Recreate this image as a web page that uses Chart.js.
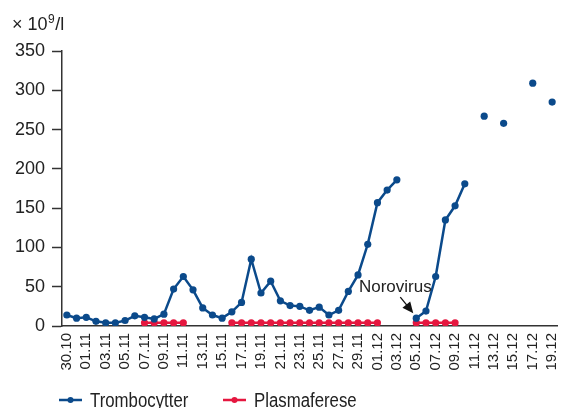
<!DOCTYPE html>
<html>
<head>
<meta charset="utf-8">
<script src="https://cdn.jsdelivr.net/npm/chart.js@4"></script>
<style>
  html, body { margin: 0; padding: 0; background: #fff; }
  #wrap { width: 561px; height: 408px; }
</style>
</head>
<body>
<div id="wrap"><canvas id="plateletChart"></canvas></div>
<script>
// DATA
const dates = [
  "30.10","31.10","01.11","02.11","03.11","04.11","05.11","06.11","07.11","08.11",
  "09.11","10.11","11.11","12.11","13.11","14.11","15.11","16.11","17.11","18.11",
  "19.11","20.11","21.11","22.11","23.11","24.11","25.11","26.11","27.11","28.11",
  "29.11","30.11","01.12","02.12","03.12","04.12","05.12","06.12","07.12","08.12",
  "09.12","10.12","11.12","12.12","13.12","14.12","15.12","16.12","17.12","18.12","19.12"
];
const trombocytter = [
  14, 10, 11, 6, 4, 4, 7, 13, 11, 9,
  15, 47, 63, 46, 23, 14, 10, 18, 30, 85,
  42, 57, 32, 26, 25, 20, 24, 14, 20, 44,
  65, 104, 157, 173, 186, null, 10, 19, 63, 135,
  153, 181, null, 267, null, 258, null, null, 309, null, 285
];
const plasmaferese = [
  null, null, null, null, null, null, null, null, 4, 4,
  4, 4, 4, null, null, null, null, 4, 4, 4,
  4, 4, 4, 4, 4, 4, 4, 4, 4, 4,
  4, 4, 4, null, null, null, 4, 4, 4, 4,
  4, null, null, null, null, null, null, null, null, null, null
];
const yTicks = [0, 50, 100, 150, 200, 250, 300, 350];
const seriesNames = ["Trombocytter", "Plasmaferese"];
const noteText = "Norovirus";
const noteIndex = 36;

const BLUE = "#0b4a8b";
const RED = "#e5173f";
const AXIS = "#333333";
const FONT = "'Liberation Sans', Arial, sans-serif";

// extra drawing: unit label, Norovirus arrow, legend
const extras = {
  id: "extras",
  afterDraw(chart) {
    const ctx = chart.ctx;
    const x = chart.scales.x;
    const y = chart.scales.y;
    ctx.save();

    // unit  (× 10^9/l)
    ctx.fillStyle = "#222";
    ctx.textBaseline = "alphabetic";
    ctx.textAlign = "left";
    ctx.font = "18px " + FONT;
    let ux = 12;
    ctx.fillText("× 10", ux, 30);
    ux += ctx.measureText("× 10").width;
    ctx.font = "12px " + FONT;
    ctx.fillText("9", ux + 0.5, 23);
    ux += ctx.measureText("9").width + 1;
    ctx.font = "18px " + FONT;
    ctx.fillText("/l", ux, 30);

    // Norovirus note with arrow to the point
    const px = x.getPixelForValue(noteIndex);
    const py = y.getPixelForValue(trombocytter[noteIndex]);
    ctx.font = "17px " + FONT;
    ctx.textAlign = "center";
    ctx.textBaseline = "middle";
    ctx.fillText(noteText, px - 21, py - 31);

    const tipX = px - 3, tipY = py - 5;
    const tailX = px - 16, tailY = py - 21;
    const ang = Math.atan2(tipY - tailY, tipX - tailX);
    ctx.strokeStyle = "#111";
    ctx.fillStyle = "#111";
    ctx.lineWidth = 1.3;
    ctx.beginPath();
    ctx.moveTo(tailX, tailY);
    ctx.lineTo(tipX - 8 * Math.cos(ang), tipY - 8 * Math.sin(ang));
    ctx.stroke();
    ctx.beginPath();
    ctx.moveTo(tipX, tipY);
    ctx.lineTo(tipX - 11 * Math.cos(ang) + 5 * Math.sin(ang), tipY - 11 * Math.sin(ang) - 5 * Math.cos(ang));
    ctx.lineTo(tipX - 11 * Math.cos(ang) - 5 * Math.sin(ang), tipY - 11 * Math.sin(ang) + 5 * Math.cos(ang));
    ctx.closePath();
    ctx.fill();

    // legend (condensed text, like the original)
    const items = [
      { x: 59, color: BLUE, text: seriesNames[0] },
      { x: 223, color: RED, text: seriesNames[1] }
    ];
    const ly = 400;
    ctx.textAlign = "left";
    items.forEach(it => {
      ctx.strokeStyle = it.color;
      ctx.fillStyle = it.color;
      ctx.lineWidth = 2.5;
      ctx.beginPath();
      ctx.moveTo(it.x, ly);
      ctx.lineTo(it.x + 23, ly);
      ctx.stroke();
      ctx.beginPath();
      ctx.arc(it.x + 11.5, ly, 3, 0, Math.PI * 2);
      ctx.fill();
      ctx.save();
      ctx.translate(it.x + 31, ly);
      ctx.scale(0.84, 1);
      ctx.font = "20px " + FONT;
      ctx.fillStyle = "#222";
      ctx.fillText(it.text, 0, 1);
      ctx.restore();
    });
    ctx.restore();
  }
};

new Chart(document.getElementById("plateletChart"), {
  type: "line",
  data: {
    labels: dates,
    datasets: [
      {
        label: seriesNames[0],
        data: trombocytter,
        borderColor: BLUE,
        backgroundColor: BLUE,
        borderWidth: 2.5,
        pointRadius: 3.6,
        pointBorderWidth: 0,
        tension: 0
      },
      {
        label: seriesNames[1],
        data: plasmaferese,
        borderColor: RED,
        backgroundColor: RED,
        borderWidth: 2.5,
        pointRadius: 3.6,
        pointBorderWidth: 0,
        tension: 0
      }
    ]
  },
  options: {
    responsive: true,
    maintainAspectRatio: false,
    animation: false,
    layout: { padding: { top: 51, left: 0, right: 0, bottom: 30 } },
    plugins: {
      legend: { display: false },
      tooltip: { enabled: false }
    },
    scales: {
      x: {
        type: "category",
        offset: true,
        grid: { display: false, drawTicks: false },
        border: { display: true, color: AXIS, width: 1.5 },
        ticks: {
          autoSkip: false,
          maxRotation: 90,
          minRotation: 90,
          padding: 7,
          color: "#222",
          font: { family: FONT, size: 15 },
          callback: function (val, i) { return i % 2 === 0 ? dates[i] : ""; }
        },
        afterFit(scale) {
          scale.height = 52;
          scale.paddingLeft = 0;
          scale.paddingRight = 0;
        }
      },
      y: {
        min: 0,
        max: 350,
        afterBuildTicks(scale) {
          scale.ticks = yTicks.map(v => ({ value: v }));
        },
        grid: {
          display: true,
          drawOnChartArea: false,
          drawTicks: true,
          tickLength: 10,
          tickWidth: 1.5,
          tickColor: AXIS
        },
        border: { display: true, color: AXIS, width: 1.5 },
        ticks: {
          padding: 7,
          color: "#222",
          font: { family: FONT, size: 18 }
        },
        afterFit(scale) {
          scale.width = 62;
        }
      }
    }
  },
  plugins: [extras]
});
</script>
</body>
</html>
